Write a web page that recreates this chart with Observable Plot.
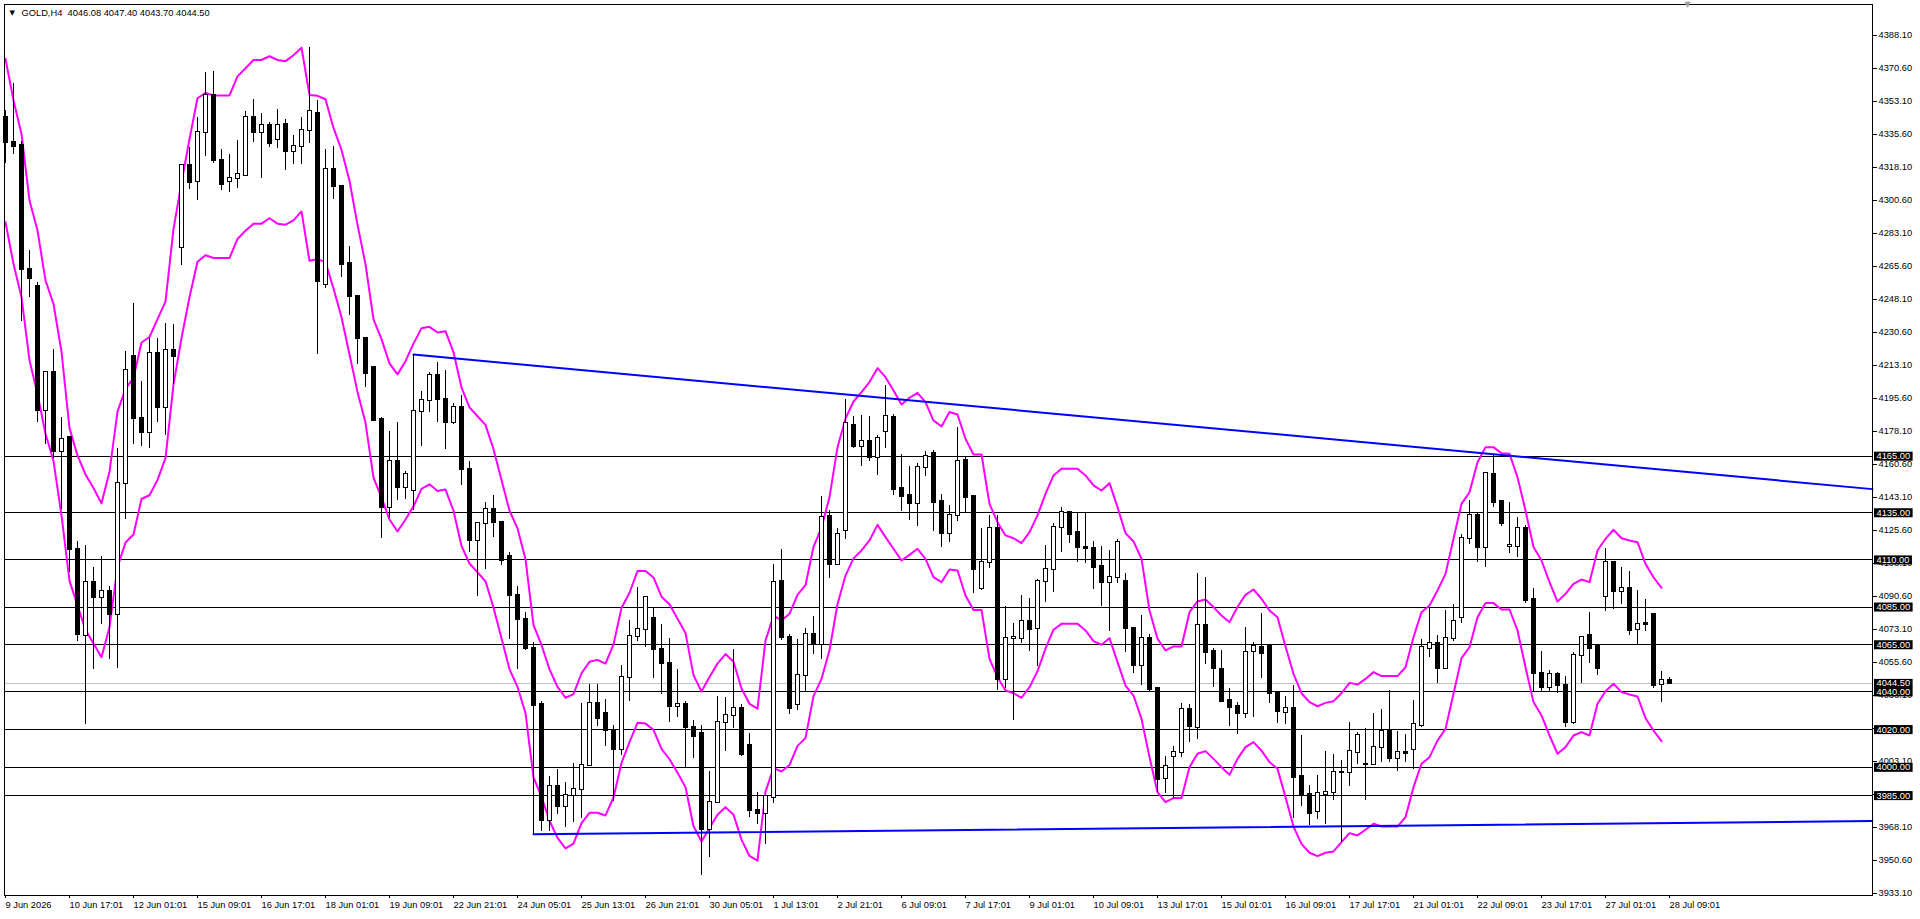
<!DOCTYPE html>
<html><head><meta charset="utf-8">
<script src="https://cdn.jsdelivr.net/npm/d3@7"></script>
<script src="https://cdn.jsdelivr.net/npm/@observablehq/plot@0.6"></script>
<style>
html,body{margin:0;padding:0;background:#fff;overflow:hidden}
#chart{width:1920px;height:919px}
</style></head><body>
<div id="chart"></div>
<script>
// ---- DATA ----
const symbolTitle = "GOLD,H4\u00a0 4046.08 4047.40 4043.70 4044.50";
const opens = [4344.7,4331.4,4329.7,4263.8,4255.1,4189.1,4209.4,4167.4,4174.7,4115.7,4070.0,4098.1,4090.2,4093.1,4081.0,4150.4,4218.1,4184.8,4177.6,4219.5,4190.9,4221.2,4275.9,4319.3,4310.6,4336.6,4356.3,4321.6,4310.6,4312.3,4313.8,4344.7,4336.6,4340.4,4333.2,4341.0,4326.7,4329.1,4337.9,4347.0,4256.2,4316.9,4308.1,4267.2,4249.7,4227.5,4211.9,4184.4,4137.7,4162.2,4148.2,4147.0,4188.6,4194.4,4207.9,4194.9,4182.7,4190.9,4158.2,4120.4,4129.1,4136.8,4129.8,4112.0,4091.2,4078.4,4063.0,4033.4,3972.0,3990.0,3979.0,3985.0,3988.1,4001.2,4033.7,4028.4,4019.5,4009.4,4047.9,4069.2,4073.3,4078.8,4062.7,4055.0,4032.1,4033.1,4020.9,4017.9,3966.8,3981.6,4023.6,4027.6,4031.1,4011.4,3976.9,3975.5,3984.0,4098.7,4068.6,4033.1,4048.9,4070.6,4065.2,4133.1,4107.4,4125.4,4181.4,4170.1,4172.8,4164.5,4178.1,4185.4,4147.9,4144.2,4139.7,4158.8,4166.3,4141.0,4123.8,4133.6,4162.7,4143.6,4094.7,4108.4,4126.5,4046.4,4068.2,4068.2,4077.3,4073.5,4098.6,4104.7,4127.0,4135.0,4124.4,4116.4,4115.9,4106.5,4098.2,4100.5,4098.6,4073.5,4053.8,4068.2,4041.6,3993.9,4005.8,4007.7,4030.5,4021.3,4075.2,4061.4,4051.9,4035.5,4032.3,4028.7,4061.4,4063.4,4064.1,4039.9,4029.3,4031.0,3995.2,3985.6,3976.8,3985.4,3986.8,3997.1,3997.5,4008.1,4001.3,4001.3,4010.3,4018.8,4004.5,4007.9,4009.3,4022.0,4063.2,4065.5,4052.6,4068.1,4079.6,4121.2,4133.4,4116.8,4155.3,4141.0,4117.3,4117.3,4126.8,4089.0,4049.6,4042.5,4049.2,4043.4,4023.6,4059.3,4069.9,4064.1,4090.8,4108.4,4093.4,4094.7,4072.9,4076.1,4081.1,4043.8,4046.08];
const highs = [4348.2,4362.9,4331.7,4273.9,4257.1,4210.0,4221.5,4185.7,4174.7,4120.0,4117.7,4105.9,4111.9,4096.0,4169.2,4220.4,4246.1,4204.5,4227.6,4227.6,4235.4,4234.8,4319.9,4328.8,4344.7,4368.4,4369.0,4327.4,4325.1,4332.3,4347.6,4354.3,4347.0,4341.8,4349.1,4343.3,4334.9,4344.7,4381.6,4353.6,4327.9,4329.1,4308.8,4276.1,4249.7,4228.0,4212.4,4185.5,4178.1,4182.7,4157.1,4218.9,4199.5,4209.3,4214.9,4210.3,4193.2,4197.2,4162.4,4129.8,4140.3,4144.2,4130.2,4113.9,4095.7,4081.9,4066.1,4035.0,3995.0,3999.0,3992.0,4002.3,4034.1,4043.9,4043.9,4036.2,4022.2,4054.0,4077.9,4095.6,4089.9,4084.9,4075.7,4068.2,4052.0,4034.7,4024.6,4022.2,3997.8,4037.4,4036.8,4062.7,4033.1,4017.9,3986.4,3985.0,4107.4,4115.3,4070.2,4067.8,4073.7,4080.0,4143.7,4136.2,4126.6,4195.0,4186.3,4186.6,4186.1,4176.0,4202.5,4187.1,4165.9,4159.5,4161.3,4167.5,4168.0,4144.7,4138.9,4180.0,4164.1,4144.2,4126.5,4133.6,4133.6,4085.5,4076.1,4091.1,4089.7,4099.6,4117.6,4129.5,4138.0,4135.0,4135.0,4135.0,4119.8,4117.1,4115.0,4120.8,4102.6,4073.8,4080.4,4070.3,4041.6,4005.8,4011.2,4033.7,4033.3,4102.8,4100.7,4063.2,4062.0,4041.6,4034.2,4074.0,4066.0,4081.6,4064.1,4039.9,4037.6,4043.4,4016.9,3990.4,3995.7,4008.4,4006.8,4003.6,4023.8,4018.5,4020.4,4028.4,4030.7,4040.8,4018.8,4017.4,4035.5,4067.8,4084.1,4069.9,4083.2,4086.4,4123.5,4141.5,4134.8,4156.5,4165.4,4141.5,4140.3,4132.3,4128.2,4094.7,4061.4,4051.4,4050.1,4048.2,4060.7,4069.4,4081.9,4064.1,4115.9,4108.8,4106.2,4103.9,4093.8,4089.0,4081.8,4051.0,4047.40];
const lows = [4320.1,4325.1,4236.3,4249.3,4182.8,4171.2,4164.0,4136.5,4103.3,4066.5,4022.9,4052.1,4075.8,4057.0,4052.6,4131.3,4171.2,4170.3,4169.2,4182.8,4176.1,4203.0,4266.1,4306.5,4300.8,4323.9,4320.1,4305.7,4305.1,4306.8,4313.5,4331.1,4312.3,4328.8,4328.0,4316.7,4319.7,4319.7,4330.9,4218.9,4253.9,4301.1,4259.7,4239.4,4213.5,4201.4,4183.4,4121.6,4132.1,4141.4,4141.9,4136.1,4169.9,4188.1,4182.7,4168.7,4182.0,4149.6,4113.9,4090.6,4105.0,4122.1,4106.9,4067.9,4052.0,4061.8,3964.5,3966.0,3966.0,3975.0,3968.0,3970.8,3972.9,4000.6,4021.5,4010.8,3982.0,4006.3,4035.1,4066.8,4063.5,4047.3,4038.8,4024.0,4026.6,3999.8,4004.9,3942.8,3952.1,3981.6,4008.3,4020.5,4005.7,3973.3,3969.8,3959.3,3981.0,4067.2,4028.2,4030.1,4040.2,4060.1,4057.1,4100.1,4106.8,4120.6,4169.1,4159.7,4162.4,4154.8,4169.3,4144.3,4135.9,4130.9,4127.9,4154.2,4125.3,4116.4,4119.4,4130.6,4135.0,4092.0,4093.8,4105.6,4040.8,4041.6,4024.8,4065.5,4061.6,4053.6,4087.6,4092.9,4113.8,4118.5,4108.4,4107.9,4094.1,4085.3,4072.2,4097.3,4060.7,4049.6,4043.4,4039.5,3986.5,3986.3,3983.3,4005.4,4013.4,4014.6,4054.4,4042.5,4034.6,4021.8,4017.2,4026.1,4026.6,4047.3,4033.7,4023.4,4022.5,3973.1,3979.4,3969.2,3972.4,3969.7,3982.4,3960.3,3990.0,4001.5,3982.4,4001.0,4002.8,4002.8,3998.0,4002.8,3998.7,4021.3,4058.4,4044.3,4051.7,4066.9,4076.1,4118.2,4108.8,4106.2,4138.0,4127.7,4113.6,4111.5,4086.7,4039.9,4040.2,4040.2,4039.3,4021.3,4022.7,4044.3,4055.2,4048.7,4082.6,4083.7,4086.4,4069.9,4065.0,4072.0,4042.0,4034.6,4043.70];
const closes = [4331.1,4329.4,4263.8,4259.1,4189.1,4209.4,4167.4,4174.1,4115.7,4070.6,4098.1,4090.2,4093.1,4081.0,4150.4,4210.5,4184.8,4177.6,4219.5,4190.9,4221.2,4218.1,4319.3,4310.0,4336.6,4356.3,4321.6,4309.2,4312.3,4314.4,4344.7,4336.6,4340.4,4330.8,4340.4,4326.5,4329.1,4337.9,4347.7,4257.4,4316.9,4308.1,4266.8,4249.7,4227.5,4208.9,4183.9,4137.7,4162.2,4148.2,4155.2,4188.6,4194.4,4207.9,4195.3,4182.7,4190.9,4158.2,4120.4,4129.1,4136.8,4129.8,4109.7,4091.2,4078.4,4063.0,4032.7,3972.0,3990.0,3979.0,3985.0,3988.1,4001.2,4034.1,4026.0,4019.5,4009.4,4047.9,4069.2,4073.3,4089.9,4062.7,4055.0,4032.1,4033.1,4020.9,4016.5,3966.8,3981.6,4023.6,4027.6,4031.1,4006.9,3976.9,3975.5,3984.4,4098.2,4068.8,4031.1,4048.9,4070.6,4065.2,4132.7,4107.8,4123.4,4182.3,4170.1,4172.8,4164.5,4174.2,4186.1,4147.5,4143.8,4139.7,4158.8,4164.8,4140.6,4123.8,4133.6,4162.2,4143.3,4105.1,4108.4,4126.5,4046.4,4068.2,4068.9,4077.3,4073.1,4098.6,4104.7,4127.0,4135.0,4123.3,4116.4,4115.9,4106.2,4097.8,4100.5,4119.1,4073.5,4053.8,4068.2,4041.3,3993.4,4000.6,4007.7,4030.5,4021.8,4075.2,4061.1,4052.6,4035.1,4031.9,4028.7,4060.7,4064.1,4060.2,4039.0,4029.8,4031.0,3994.8,3985.1,3975.7,3986.0,3986.8,3997.1,3997.2,4008.4,4016.7,4001.5,4010.3,4018.8,4004.5,4007.7,4007.2,4022.5,4063.4,4065.5,4052.6,4068.1,4077.3,4121.2,4133.4,4116.8,4156.0,4140.6,4129.5,4117.4,4126.5,4088.5,4049.9,4042.5,4049.2,4043.4,4023.6,4059.3,4069.0,4063.2,4052.6,4108.4,4093.4,4094.7,4072.6,4075.8,4076.0,4043.4,4045.9,4044.50];
const envUpper = [4375.7,4353.6,4335.9,4300.6,4284.7,4258.2,4245.8,4220.4,4179.9,4165.4,4155.3,4148.1,4140.0,4156.8,4188.6,4200.7,4206.5,4225.3,4228.2,4237.7,4247.0,4285.4,4310.0,4333.2,4354.8,4357.7,4356.3,4356.3,4356.3,4366.4,4370.7,4375.1,4375.1,4377.1,4375.1,4374.5,4377.6,4381.6,4356.6,4356.1,4354.3,4339.1,4327.4,4311.1,4287.8,4266.8,4237.6,4227.1,4214.2,4208.4,4215.4,4224.7,4232.9,4233.6,4230.6,4231.3,4220.1,4201.4,4190.9,4186.2,4181.6,4168.7,4152.4,4136.1,4126.7,4110.4,4075.4,4064.9,4052.0,4042.7,4036.9,4038.8,4049.9,4056.0,4057.0,4055.0,4065.2,4084.5,4092.6,4104.1,4104.1,4100.7,4090.5,4086.5,4078.8,4071.3,4048.9,4040.2,4047.9,4055.0,4060.1,4056.0,4041.8,4033.7,4031.1,4067.2,4080.4,4077.9,4081.4,4091.5,4096.6,4116.9,4127.1,4143.3,4169.7,4184.9,4194.0,4199.0,4204.3,4211.7,4206.9,4199.8,4192.4,4196.0,4198.6,4193.7,4183.9,4180.8,4188.4,4187.1,4174.2,4165.9,4165.9,4139.7,4130.0,4123.0,4121.5,4118.9,4124.7,4133.6,4145.0,4154.8,4158.3,4158.3,4158.3,4154.8,4149.5,4146.8,4150.7,4138.0,4124.2,4119.8,4110.6,4083.2,4068.2,4062.0,4064.1,4064.1,4082.3,4088.0,4089.0,4085.0,4080.5,4077.0,4085.0,4091.5,4094.3,4089.4,4083.2,4079.6,4064.1,4049.6,4039.3,4034.6,4032.4,4034.2,4035.1,4039.3,4044.8,4043.9,4046.9,4050.5,4048.4,4048.4,4048.4,4053.1,4069.0,4082.3,4085.8,4093.8,4102.6,4121.2,4139.7,4145.9,4161.8,4169.8,4169.8,4166.6,4166.3,4153.9,4136.2,4116.8,4109.7,4098.2,4087.9,4092.0,4097.3,4099.6,4098.2,4115.0,4121.2,4126.0,4121.5,4120.3,4119.4,4107.9,4100.8,4095.2];
const envLower = [4289.1,4267.0,4249.3,4215.8,4198.1,4176.9,4162.5,4133.6,4098.9,4085.9,4072.9,4065.7,4058.4,4074.3,4106.2,4119.2,4123.5,4142.3,4144.3,4152.4,4164.0,4203.0,4227.6,4249.3,4268.1,4271.6,4270.1,4270.1,4270.1,4280.2,4284.6,4288.3,4288.3,4291.2,4288.3,4287.8,4290.1,4294.8,4268.6,4269.5,4267.9,4253.9,4238.7,4218.9,4199.1,4182.7,4153.6,4143.1,4131.4,4125.1,4131.4,4138.4,4147.7,4150.1,4146.6,4147.3,4136.1,4117.4,4108.1,4103.4,4098.7,4084.7,4068.4,4052.0,4042.7,4028.7,3994.7,3984.3,3971.7,3962.6,3957.0,3959.6,3970.4,3975.9,3975.9,3974.5,3984.0,4002.3,4013.4,4023.6,4023.2,4019.9,4009.8,4004.3,3997.2,3989.5,3968.8,3960.7,3967.8,3974.9,3978.9,3974.9,3961.7,3953.0,3950.5,3987.1,3999.6,3997.8,4001.2,4011.4,4015.5,4037.8,4046.9,4062.1,4086.5,4101.7,4110.8,4115.0,4120.3,4128.6,4122.1,4115.9,4109.7,4112.7,4115.9,4110.6,4100.9,4098.2,4104.9,4104.4,4091.1,4083.5,4083.5,4057.5,4047.8,4040.8,4039.3,4036.9,4042.5,4051.0,4062.9,4073.0,4076.1,4076.1,4076.1,4072.6,4066.9,4065.0,4068.5,4055.8,4043.4,4038.1,4025.7,4005.4,3986.8,3981.5,3983.7,3983.7,4000.1,4007.2,4008.6,4004.5,4000.1,3996.0,4004.5,4010.7,4013.4,4008.9,4002.8,3999.2,3984.2,3968.6,3959.4,3954.7,3952.9,3954.7,3955.4,3960.3,3965.1,3963.9,3966.9,3970.1,3968.6,3968.6,3968.6,3973.6,3989.5,4001.9,4005.4,4014.2,4020.4,4039.0,4057.9,4063.7,4079.6,4087.1,4087.1,4083.7,4083.7,4072.6,4053.1,4034.6,4027.5,4016.9,4007.2,4010.7,4016.9,4018.7,4016.9,4033.7,4040.4,4044.3,4039.9,4038.6,4037.6,4026.1,4019.5,4013.9];
const levels = [4165, 4135, 4110, 4085, 4065, 4040, 4020, 4000, 3985];
const bidPrice = 4044.5;
const priceTicks = [4388.1,4370.6,4353.1,4335.6,4318.1,4300.6,4283.1,4265.6,4248.1,4230.6,4213.1,4195.6,4178.1,4160.6,4143.1,4125.6,4108.1,4090.6,4073.1,4055.6,4038.1,4020.6,4003.1,3985.6,3968.1,3950.6,3933.1];
const timeLabels = ["9 Jun 2026","10 Jun 17:01","12 Jun 01:01","15 Jun 09:01","16 Jun 17:01","18 Jun 01:01","19 Jun 09:01","22 Jun 21:01","24 Jun 05:01","25 Jun 13:01","26 Jun 21:01","30 Jun 05:01","1 Jul 13:01","2 Jul 21:01","6 Jul 09:01","7 Jul 17:01","9 Jul 01:01","10 Jul 09:01","13 Jul 17:01","15 Jul 01:01","16 Jul 09:01","17 Jul 17:01","21 Jul 01:01","22 Jul 09:01","23 Jul 17:01","27 Jul 01:01","28 Jul 09:01"];
const barsPerLabel = 8;
const resistanceAnchors = [{bar: 51, price: 4218.9}, {bar: 200, price: 4160.6}];
const supportAnchors = [{bar: 66, price: 3964.5}, {bar: 200, price: 3970.1}];
const chartShiftBar = 210.25;

// ---- BUILD ----
const bars = opens.map((o, i) => ({i, open: o, high: highs[i], low: lows[i], close: closes[i]}));
const bull = bars.filter(d => d.close >= d.open);
const bear = bars.filter(d => d.close < d.open);
const env = envUpper.map((u, i) => ({i, upper: u, lower: envLower[i]}));
const xDomain = [-0.125, 233.375];
function ray(a) {
  const [p, q] = a;
  const slope = (q.price - p.price) / (q.bar - p.bar);
  return [p, {bar: xDomain[1], price: p.price + slope * (xDomain[1] - p.bar)}];
}
const timeTicks = timeLabels.map((_, k) => k * barsPerLabel);
const priceLabel = d => d.toFixed(2);

const chart = Plot.plot({
  width: 1920, height: 919,
  marginLeft: 4, marginRight: 48, marginTop: 4, marginBottom: 24,
  style: {background: "white", color: "black", fontFamily: "'Liberation Sans', Arial, sans-serif", fontSize: "9.3px", overflow: "visible"},
  x: {type: "linear", domain: xDomain, axis: null},
  y: {type: "linear", domain: [3932.04, 4404.54], axis: null},
  marks: [
    Plot.ruleY([bidPrice], {stroke: "#c0c0c0", strokeWidth: 1, shapeRendering: "crispEdges"}),
    Plot.ruleY(levels, {stroke: "black", strokeWidth: 1, shapeRendering: "crispEdges"}),
    Plot.line(env, {x: "i", y: "upper", stroke: "#ff00ff", strokeWidth: 2}),
    Plot.line(env, {x: "i", y: "lower", stroke: "#ff00ff", strokeWidth: 2}),
    Plot.line(ray(resistanceAnchors), {x: "bar", y: "price", stroke: "#0000ff", strokeWidth: 2}),
    Plot.line(ray(supportAnchors), {x: "bar", y: "price", stroke: "#0000ff", strokeWidth: 2}),
    Plot.ruleX(bars, {x: "i", y1: "low", y2: "high", stroke: "black", strokeWidth: 1, shapeRendering: "crispEdges"}),
    Plot.rect(bear, {x1: d => d.i - 0.5, x2: d => d.i + 0.5, y1: "open", y2: "close", insetLeft: 2, insetRight: 2, insetTop: -0.5, insetBottom: -0.5, fill: "black", stroke: "black", strokeWidth: 1, shapeRendering: "crispEdges"}),
    Plot.rect(bull, {x1: d => d.i - 0.5, x2: d => d.i + 0.5, y1: "open", y2: "close", insetLeft: 2, insetRight: 2, insetTop: -0.5, insetBottom: -0.5, fill: "white", stroke: "black", strokeWidth: 1, shapeRendering: "crispEdges"}),
    Plot.frame({stroke: "black", shapeRendering: "crispEdges"}),
    Plot.axisY({ticks: priceTicks, anchor: "right", tickSize: 4, tickPadding: 2, tickFormat: priceLabel, textAnchor: "start", label: null}),
    Plot.axisX({ticks: timeTicks, anchor: "bottom", tickSize: 3, tickPadding: 3, textAnchor: "start", tickFormat: d => timeLabels[d / barsPerLabel], label: null}),
    Plot.text([bidPrice], {y: d => d, frameAnchor: "right", dx: 4, textAnchor: "start", fill: "white", text: priceLabel, ariaDescription: "bid-label"}),
    Plot.text(levels, {y: d => d, frameAnchor: "right", dx: 4, textAnchor: "start", fill: "white", text: priceLabel, ariaDescription: "level-labels"}),
    Plot.text([chartShiftBar], {x: d => d, frameAnchor: "top", lineAnchor: "top", dy: -3, text: () => "\u25BC", fontFamily: "DejaVu Sans", fontSize: 8, fill: "#a0a0a0"}),
    Plot.text(["\u25BC"], {frameAnchor: "top-left", dx: 5, dy: 6, fontFamily: "DejaVu Sans", fontSize: 7, fill: "black"}),
    Plot.text([symbolTitle], {frameAnchor: "top-left", dx: 17, dy: 5, textAnchor: "start", fill: "black"})
  ]
});
document.getElementById("chart").appendChild(chart);

// black backgrounds behind the price-level labels on the right axis
const NS = "http://www.w3.org/2000/svg";
const boxedTexts = new Set([bidPrice, ...levels].map(priceLabel));
let targets = Array.from(chart.querySelectorAll('[aria-description="bid-label"] text, [aria-description="level-labels"] text'));
if (targets.length === 0) {
  targets = Array.from(chart.querySelectorAll("text")).filter(t => {
    const g = t.closest("g");
    return boxedTexts.has(t.textContent.trim()) && g && g.getAttribute("fill") === "white";
  });
}
targets.forEach(t => {
  const b = t.getBBox();
  const r = document.createElementNS(NS, "rect");
  r.setAttribute("x", b.x - 2.5);
  r.setAttribute("y", b.y + 0.5);
  r.setAttribute("width", b.width + 5);
  r.setAttribute("height", Math.max(1, b.height - 1));
  r.setAttribute("fill", "black");
  const tr = t.getAttribute("transform");
  if (tr) r.setAttribute("transform", tr);
  t.parentNode.insertBefore(r, t);
});
</script>
</body></html>
